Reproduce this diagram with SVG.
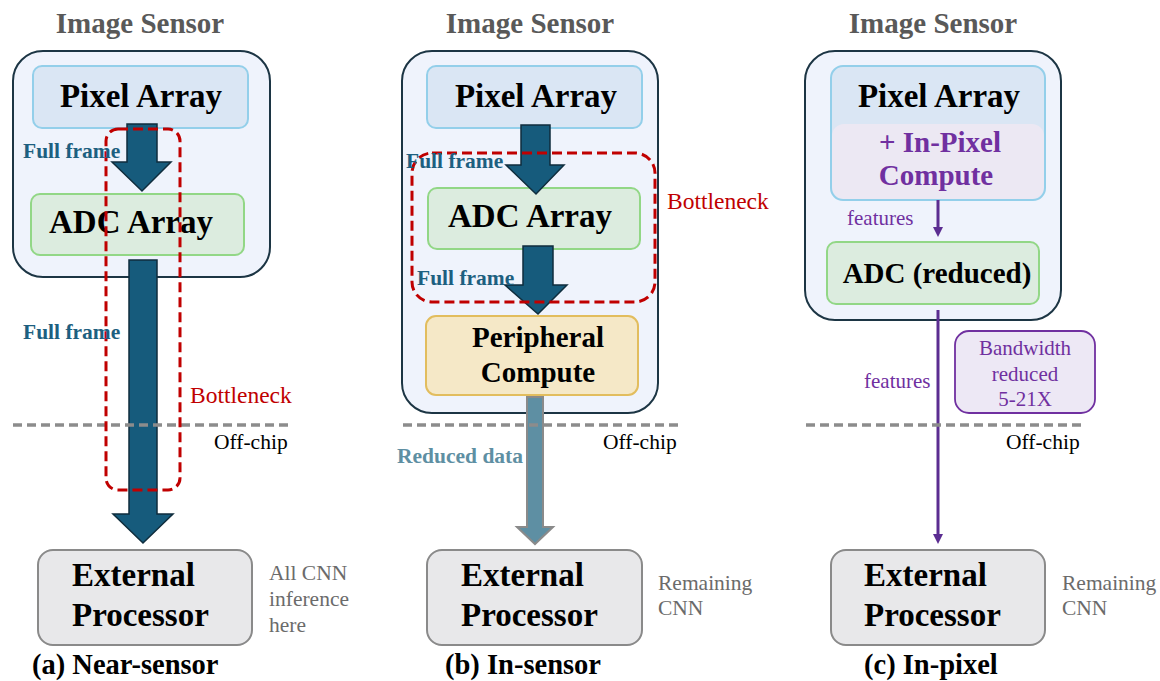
<svg xmlns="http://www.w3.org/2000/svg" width="1160" height="681" viewBox="0 0 1160 681">
<style>
text{font-family:"Liberation Serif","Times New Roman",serif}
.title{font-weight:bold;font-size:29px;fill:#595959;text-anchor:middle}
.big{font-weight:bold;font-size:33px;fill:#000}
.mid{font-weight:bold;font-size:29px;fill:#000;text-anchor:middle}
.ff{font-weight:bold;font-size:21.5px;fill:#1d5f80}
.rd{font-weight:bold;font-size:21.5px;fill:#5e8fa3}
.bn{font-size:23.5px;fill:#c00000}
.off{font-size:21.5px;fill:#000}
.note{font-size:21.5px;fill:#6b6b6b}
.cap{font-weight:bold;font-size:28.5px;fill:#000}
.feat{font-size:21px;fill:#7030a0}
.purp{font-weight:bold;font-size:29px;fill:#7030a0;text-anchor:middle}
.sensor{fill:#eff3fc;stroke:#1c3544;stroke-width:2}
.pix{fill:#dae6f4;stroke:#93cfea;stroke-width:2}
.adc{fill:#dcecdf;stroke:#92d786;stroke-width:2}
.per{fill:#f5e8c7;stroke:#e2bd5e;stroke-width:2}
.ext{fill:#e8e8ea;stroke:#8a8a8a;stroke-width:2}
.bigarrow{fill:#165b7c;stroke:#0f2d3d;stroke-width:1.5}
.redarrow{fill:#5e8fa3;stroke:#8a8a8a;stroke-width:2}
.bneck{fill:none;stroke:#c00000;stroke-width:3;stroke-dasharray:10 5}
.divider{stroke:#8c8c8c;stroke-width:3.5;stroke-dasharray:9 5}
.pline{stroke:#5b2d91;stroke-width:3;fill:none}
</style>
<defs>
<marker id="ph" markerWidth="10" markerHeight="10" refX="0" refY="5" orient="auto" markerUnits="userSpaceOnUse" viewBox="0 0 10 10" overflow="visible">
<path d="M0,0 L10,5 L0,10 z" fill="#5b2d91" transform="translate(-2,0)"/>
</marker>
</defs>

<!-- Panel titles -->
<text class="title" x="140" y="33">Image Sensor</text>
<text class="title" x="530" y="33">Image Sensor</text>
<text class="title" x="933" y="33">Image Sensor</text>

<!-- Panel (a) -->
<g id="sensor-a"><rect class="sensor" x="13" y="51" width="257" height="226" rx="30"/></g>
<g id="pixel-a"><rect class="pix" x="33" y="66" width="215" height="62" rx="9"/><text class="big" x="141" y="107" text-anchor="middle">Pixel Array</text></g>
<g id="adc-a"><rect class="adc" x="31" y="194" width="213" height="61" rx="9"/><text class="big" x="131" y="233" text-anchor="middle">ADC Array</text></g>
<g id="ext-a"><rect class="ext" x="38" y="550" width="214" height="95" rx="15"/><text class="big" x="72" y="586">External</text><text class="big" x="72" y="626">Processor</text></g>

<!-- Panel (b) -->
<g id="sensor-b"><rect class="sensor" x="402" y="51" width="256" height="362" rx="30"/></g>
<g id="pixel-b"><rect class="pix" x="427" y="66" width="215" height="62" rx="9"/><text class="big" x="536" y="107" text-anchor="middle">Pixel Array</text></g>
<g id="adc-b"><rect class="adc" x="428" y="188" width="212" height="61" rx="9"/><text class="big" x="530" y="227" text-anchor="middle">ADC Array</text></g>
<g id="periph-b"><rect class="per" x="426" y="316" width="212" height="79" rx="10"/><text class="mid" x="538" y="347">Peripheral</text><text class="mid" x="538" y="382">Compute</text></g>
<g id="ext-b"><rect class="ext" x="427" y="550" width="215" height="95" rx="15"/><text class="big" x="461" y="586">External</text><text class="big" x="461" y="626">Processor</text></g>

<!-- Panel (c) -->
<g id="sensor-c"><rect class="sensor" x="805" y="51" width="256" height="269" rx="30"/></g>
<g id="pixel-c">
<rect x="831" y="66" width="214" height="134" rx="12" fill="#dae6f4"/>
<rect x="832" y="124" width="212" height="75" rx="12" fill="#ece8f3"/>
<rect x="831" y="66" width="214" height="134" rx="12" fill="none" stroke="#93cfea" stroke-width="2"/>
<text class="big" x="939" y="107" text-anchor="middle">Pixel Array</text>
<text class="purp" x="940" y="152">+ In-Pixel</text>
<text class="purp" x="936" y="185">Compute</text>
</g>
<g id="adc-c"><rect class="adc" x="827" y="242" width="212" height="62" rx="9"/><text class="mid" x="937" y="283">ADC (reduced)</text></g>
<g id="bw-c"><rect x="955" y="331" width="140" height="82" rx="14" fill="#ede8f5" stroke="#7030a0" stroke-width="1.8"/><text class="feat" x="1025" y="355" text-anchor="middle">Bandwidth</text><text class="feat" x="1025" y="381" text-anchor="middle">reduced</text><text class="feat" x="1025" y="406" text-anchor="middle">5-21X</text></g>
<g id="ext-c"><rect class="ext" x="831" y="550" width="214" height="95" rx="15"/><text class="big" x="864" y="586">External</text><text class="big" x="864" y="626">Processor</text></g>

<!-- Connectors -->
<g id="connectors">
<polygon class="bigarrow" points="127,124 157,124 157,162 171,162 142,191 112,162 127,162"/>
<polygon class="bigarrow" points="129,260 157,260 157,514 173,514 143,543 113,514 129,514"/>
<polygon class="bigarrow" points="521,125 550,125 550,165 564,165 536,194 506,165 521,165"/>
<polygon class="bigarrow" points="523,246 553,246 553,285 567,285 538,314 505,285 523,285"/>
<polygon class="redarrow" points="527,397 543,397 543,527 553,527 535,544 517,527 527,527"/>
<line class="pline" x1="938" y1="200" x2="938" y2="229" marker-end="url(#ph)"/>
<line class="pline" x1="938" y1="310" x2="938" y2="536" marker-end="url(#ph)"/>
</g>

<!-- Dividers -->
<g id="dividers">
<line class="divider" x1="13" y1="425" x2="290" y2="425"/>
<line class="divider" x1="403" y1="425" x2="680" y2="425"/>
<line class="divider" x1="806" y1="425" x2="1083" y2="425"/>
</g>

<!-- Bottleneck regions -->
<g id="bottleneck-a"><rect class="bneck" x="106" y="129" width="74" height="361" rx="12"/><text class="bn" x="190" y="403">Bottleneck</text></g>
<g id="bottleneck-b"><rect class="bneck" x="412" y="153" width="243" height="149" rx="20"/><text class="bn" x="667" y="209">Bottleneck</text></g>

<!-- Labels -->
<g id="labels">
<text class="ff" x="23" y="158">Full frame</text>
<text class="ff" x="23" y="339">Full frame</text>
<text class="ff" x="406" y="168">Full frame</text>
<text class="ff" x="417" y="285">Full frame</text>
<text class="rd" x="397" y="463">Reduced data</text>
<text class="feat" x="847" y="225">features</text>
<text class="feat" x="864" y="388">features</text>
<text class="off" x="214" y="449">Off-chip</text>
<text class="off" x="603" y="449">Off-chip</text>
<text class="off" x="1006" y="449">Off-chip</text>
<text class="note" x="269" y="580">All CNN</text>
<text class="note" x="269" y="606">inference</text>
<text class="note" x="269" y="632">here</text>
<text class="note" x="658" y="590">Remaining</text>
<text class="note" x="658" y="615">CNN</text>
<text class="note" x="1062" y="590">Remaining</text>
<text class="note" x="1062" y="615">CNN</text>
<text class="cap" x="32" y="674">(a) Near-sensor</text>
<text class="cap" x="445" y="674">(b) In-sensor</text>
<text class="cap" x="864" y="674">(c) In-pixel</text>
</g>
</svg>
